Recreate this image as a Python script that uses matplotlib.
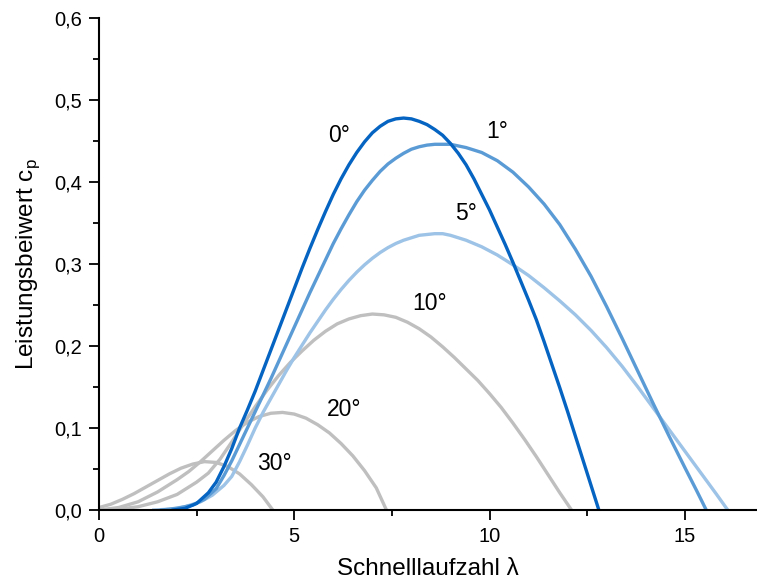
import matplotlib
matplotlib.use("Agg")
import matplotlib.pyplot as plt
from matplotlib.ticker import MultipleLocator, FuncFormatter

plt.rcParams['font.family'] = ['Liberation Sans', 'DejaVu Sans']

# tip speed ratio / power coefficient
lam_0 = [1.9, 2.2, 2.5, 2.8, 3.0, 3.2, 3.4, 3.6, 3.8, 4.0, 4.2, 4.4, 4.6, 4.8, 5.0, 5.2, 5.4, 5.6, 5.8, 6.0,
         6.2, 6.4, 6.6, 6.8, 7.0, 7.2, 7.4, 7.6, 7.8, 8.0, 8.2, 8.4, 8.6, 8.8, 9.0, 9.2, 9.4, 9.6, 9.8, 10.0,
         10.2, 10.4, 10.6, 10.8, 11.0, 11.2, 11.4, 11.6, 11.8, 12.0, 12.2, 12.4, 12.6, 12.8]
cp_0 = [0.0, 0.002, 0.008, 0.021, 0.034, 0.053, 0.075, 0.1, 0.122, 0.145, 0.17, 0.195, 0.22, 0.245, 0.27, 0.295,
        0.319, 0.342, 0.364, 0.385, 0.404, 0.421, 0.436, 0.449, 0.46, 0.468, 0.474, 0.477, 0.478, 0.477, 0.474,
        0.47, 0.464, 0.457, 0.447, 0.435, 0.421, 0.404, 0.385, 0.366, 0.345, 0.324, 0.302, 0.279, 0.256, 0.232,
        0.205, 0.177, 0.149, 0.12, 0.09, 0.06, 0.03, 0.0]

lam_1 = [1.6, 2.0, 2.4, 2.7, 3.0, 3.2, 3.4, 3.6, 3.8, 4.0, 4.2, 4.4, 4.6, 4.8, 5.0, 5.2, 5.4, 5.6, 5.8, 6.0,
         6.2, 6.4, 6.6, 6.8, 7.0, 7.2, 7.4, 7.6, 7.8, 8.0, 8.2, 8.4, 8.6, 8.8, 9.0, 9.4, 9.8, 10.2, 10.6, 11.0,
         11.4, 11.8, 12.2, 12.6, 13.0, 13.4, 13.8, 14.2, 14.6, 15.0, 15.3, 15.55]
cp_1 = [0.0, 0.002, 0.006, 0.013, 0.026, 0.042, 0.06, 0.08, 0.1, 0.12, 0.14, 0.16, 0.181, 0.202, 0.223, 0.244,
        0.265, 0.285, 0.305, 0.325, 0.343, 0.36, 0.376, 0.39, 0.402, 0.413, 0.422, 0.429, 0.435, 0.44, 0.443,
        0.445, 0.446, 0.446, 0.446, 0.442, 0.436, 0.426, 0.412, 0.394, 0.373, 0.348, 0.318, 0.285, 0.248, 0.209,
        0.169, 0.129, 0.09, 0.052, 0.024, 0.0]

lam_5 = [1.4, 1.8, 2.2, 2.6, 2.9, 3.2, 3.4, 3.6, 3.8, 4.0, 4.2, 4.4, 4.6, 4.8, 5.0, 5.2, 5.4, 5.6, 5.8, 6.0,
         6.2, 6.4, 6.6, 6.8, 7.0, 7.2, 7.4, 7.6, 7.8, 8.0, 8.2, 8.4, 8.6, 8.8, 9.0, 9.2, 9.4, 9.6, 9.8, 10.2,
         10.6, 11.0, 11.4, 11.8, 12.2, 12.6, 13.0, 13.4, 13.8, 14.2, 14.6, 15.0, 15.4, 15.8, 16.1]
cp_5 = [0.0, 0.001, 0.004, 0.01, 0.018, 0.03, 0.041, 0.059, 0.079, 0.1, 0.119, 0.136, 0.153, 0.17, 0.186,
        0.201, 0.216, 0.23, 0.244, 0.257, 0.269, 0.28, 0.29, 0.299, 0.307, 0.314, 0.32, 0.325, 0.329, 0.332,
        0.335, 0.336, 0.337, 0.337, 0.335, 0.332, 0.329, 0.325, 0.321, 0.311, 0.299, 0.286, 0.271, 0.255, 0.238,
        0.219, 0.198, 0.175, 0.15, 0.124, 0.098, 0.072, 0.046, 0.02, 0.0]

lam_10 = [0.0, 0.5, 1.0, 1.5, 2.0, 2.5, 2.8, 3.1, 3.4, 3.7, 4.0, 4.3, 4.6, 4.9, 5.2, 5.5, 5.8, 6.1, 6.4, 6.7,
          7.0, 7.3, 7.6, 7.9, 8.2, 8.5, 8.8, 9.1, 9.4, 9.7, 10.0, 10.3, 10.6, 10.9, 11.2, 11.5, 11.8, 12.1]
cp_10 = [0.0, 0.001, 0.004, 0.01, 0.019, 0.034, 0.045, 0.062, 0.083, 0.105, 0.126, 0.146, 0.164, 0.18, 0.194,
         0.207, 0.218, 0.227, 0.233, 0.237, 0.239, 0.238, 0.235, 0.229, 0.221, 0.211, 0.199, 0.186, 0.172, 0.158,
         0.142, 0.125, 0.106, 0.086, 0.065, 0.043, 0.021, 0.0]

lam_20 = [0.0, 0.5, 1.0, 1.5, 2.0, 2.3, 2.6, 2.9, 3.2, 3.5, 3.8, 4.1, 4.4, 4.7, 5.0, 5.3, 5.6, 5.9, 6.2, 6.5,
          6.8, 7.1, 7.36]
cp_20 = [0.0, 0.003, 0.01, 0.022, 0.037, 0.047, 0.059, 0.072, 0.085, 0.097, 0.107, 0.114, 0.118, 0.119, 0.117,
         0.112, 0.104, 0.094, 0.081, 0.066, 0.048, 0.027, 0.0]

lam_30 = [0.0, 0.3, 0.6, 0.9, 1.2, 1.5, 1.8, 2.1, 2.4, 2.7, 3.0, 3.3, 3.6, 3.9, 4.2, 4.45]
cp_30 = [0.003, 0.007, 0.013, 0.02, 0.028, 0.036, 0.044, 0.051, 0.056, 0.059, 0.058, 0.053, 0.044, 0.031,
         0.016, 0.0]

labels = ["0°", "1°", "5°", "10°", "20°", "30°"]
label_pos = [(6.16, 0.457), (10.2, 0.462), (9.41, 0.361), (8.47, 0.252), (6.27, 0.122), (4.5, 0.057)]

fig = plt.figure(figsize=(7.57, 5.85), dpi=100)
ax = fig.add_axes([0.1308, 0.1282, 0.8692, 0.841])

grey = "#bfbfbf"
lw = 2.4
ax.plot(lam_30, cp_30, color=grey, lw=lw)
ax.plot(lam_20, cp_20, color=grey, lw=lw)
ax.plot(lam_10, cp_10, color=grey, lw=lw)
ax.plot(lam_5, cp_5, color="#9dc3e6", lw=lw)
ax.plot(lam_1, cp_1, color="#5b9bd5", lw=lw)
ax.plot(lam_0, cp_0, color="#0563c1", lw=lw)

for txt, (x, y) in zip(labels, label_pos):
    ax.text(x, y, txt, fontsize=16.5, ha="center", va="center")

ax.set_xlim(0, 16.85)
ax.set_ylim(0, 0.6)
ax.spines['top'].set_visible(False)
ax.spines['right'].set_visible(False)
for s in ('left', 'bottom'):
    ax.spines[s].set_linewidth(1.5)

ax.xaxis.set_major_locator(MultipleLocator(5))
ax.xaxis.set_minor_locator(MultipleLocator(2.5))
ax.yaxis.set_major_locator(MultipleLocator(0.1))
ax.yaxis.set_minor_locator(MultipleLocator(0.05))
ax.yaxis.set_major_formatter(FuncFormatter(lambda v, p: f"{v:.1f}".replace(".", ",")))
ax.tick_params(which="major", direction="out", length=7, width=1.3, labelsize=14.5, pad=5)
ax.tick_params(which="minor", direction="out", length=4.5, width=1.3)

ax.set_xlabel("Schnelllaufzahl λ", fontsize=17.5, labelpad=9)
ax.set_ylabel(r"Leistungsbeiwert c$_\mathregular{p}$", fontsize=17.5, labelpad=9)

fig.savefig("out.png", dpi=100)
